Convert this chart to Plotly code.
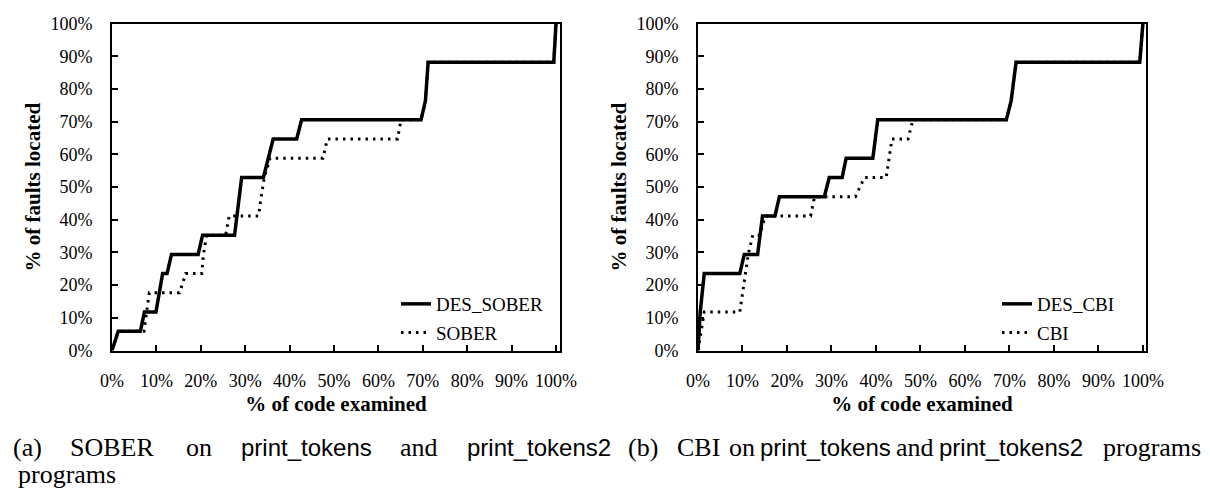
import plotly.graph_objects as go

# ---------------- data (17 faults -> steps of 1/17) ----------------
F = 100.0 / 17
# Left panel: SOBER
des_sober_x = [0, 1.4, 6.4, 7.3, 9.9, 11.4, 12.4, 13.4, 19.4, 20.4, 27.6, 29.2, 34.1, 36.3, 41.6, 42.7, 69.6, 70.6, 71.2, 99.5, 100]
des_sober_k = [0, 1, 1, 2, 2, 4, 4, 5, 5, 6, 6, 9, 9, 11, 11, 12, 12, 13, 15, 15, 17]
sober_x = [0, 1.4, 7.2, 7.8, 8.4, 15.2, 16.6, 20.2, 20.6, 21.3, 25.6, 26.4, 33.0, 33.6, 34.3, 35.6, 47.5, 48.5, 64.3, 65.1, 69.6, 70.6, 71.2, 99.5, 100]
sober_k = [0, 1, 1, 2, 3, 3, 4, 4, 5, 6, 6, 7, 7, 8, 9, 10, 10, 11, 11, 12, 12, 13, 15, 15, 17]
# Right panel: CBI
des_cbi_x = [0, 0.5, 1.4, 9.4, 10.4, 13.4, 14.5, 17.3, 18.3, 28.4, 29.5, 32.4, 33.3, 39.3, 40.4, 69.3, 70.4, 71.5, 99.3, 100]
des_cbi_k = [0, 2, 4, 4, 5, 5, 7, 7, 8, 8, 9, 9, 10, 10, 12, 12, 13, 15, 15, 17]
cbi_x = [0, 1.4, 9.4, 10.0, 10.6, 11.3, 12.3, 13.9, 15.1, 25.3, 26.2, 35.4, 37.4, 42.3, 43.6, 47.2, 48.3, 69.3, 70.4, 71.5, 99.3, 100]
cbi_k = [0, 2, 2, 3, 4, 5, 6, 6, 7, 7, 8, 8, 9, 9, 11, 11, 12, 12, 13, 15, 15, 17]

x_ticks = list(range(0, 101, 10))
y_ticks = list(range(0, 101, 10))
tick_text = [f"{v}%" for v in x_ticks]
x_title = "% of code examined"
y_title = "% of faults located"

SERIF = "Liberation Serif, Times New Roman, serif"
SANS = "Liberation Sans, Arial, sans-serif"
W, H = 1210, 490

def pct(ks):
    return [k * F for k in ks]

fig = go.Figure()
solid = dict(color="black", width=3.5)
dotted = dict(color="black", width=3, dash="2.5px,5px")

fig.add_trace(go.Scatter(x=des_sober_x, y=pct(des_sober_k), mode="lines", name="DES_SOBER",
                         line=solid, xaxis="x", yaxis="y", legend="legend", legendgroup="a"))
fig.add_trace(go.Scatter(x=sober_x, y=pct(sober_k), mode="lines", name="SOBER",
                         line=dotted, xaxis="x", yaxis="y", legend="legend", legendgroup="b"))
fig.add_trace(go.Scatter(x=des_cbi_x, y=pct(des_cbi_k), mode="lines", name="DES_CBI",
                         line=solid, xaxis="x2", yaxis="y2", legend="legend2", legendgroup="c"))
fig.add_trace(go.Scatter(x=cbi_x, y=pct(cbi_k), mode="lines", name="CBI",
                         line=dotted, xaxis="x2", yaxis="y2", legend="legend2", legendgroup="d"))

ydom = [1 - 342.5 / H, 1 - 15.7 / H]

def xaxis(dom, rng, anchor):
    return dict(domain=dom, range=rng, anchor=anchor, tickvals=x_ticks, ticktext=tick_text,
                ticks="inside", ticklen=6, tickwidth=1.5, tickcolor="black",
                showline=True, linecolor="black", linewidth=2, mirror=True,
                showgrid=False, zeroline=False, ticklabelstandoff=13, automargin=False,
                tickfont=dict(family=SERIF, size=18, color="black"),
                title=dict(text=f"<b>{x_title}</b>", font=dict(family=SERIF, size=21, color="black"), standoff=6))

def yaxis(anchor):
    return dict(domain=ydom, range=[0, 100], anchor=anchor, tickvals=y_ticks, ticktext=[f"{v}%" for v in y_ticks],
                ticks="inside", ticklen=6, tickwidth=1.5, tickcolor="black",
                showline=True, linecolor="black", linewidth=2, mirror=True,
                showgrid=False, zeroline=False, ticklabelstandoff=14, automargin=False,
                tickfont=dict(family=SERIF, size=18, color="black"),
                title=dict(text=f"<b>{y_title}</b>", font=dict(family=SERIF, size=21, color="black"), standoff=4))

leg_common = dict(xanchor="left", yanchor="top", bgcolor="rgba(0,0,0,0)", traceorder="grouped",
                  tracegroupgap=1, font=dict(family=SERIF, size=19, color="black"))

fig.update_layout(
    template="none",
    font=dict(family=SERIF, color="black"),
    width=W, height=H, margin=dict(l=0, r=0, t=0, b=0, autoexpand=False),
    paper_bgcolor="white", plot_bgcolor="white", showlegend=True,
    xaxis=xaxis([104 / W, 552 / W], [0, 100.9], "y"),
    yaxis=yaxis("x"),
    xaxis2=xaxis([690 / W, 1138 / W], [0, 100.7], "y2"),
    yaxis2=yaxis("x2"),
    legend=dict(x=388 / W, y=1 - 277 / H, **leg_common),
    legend2=dict(x=989 / W, y=1 - 277 / H, **leg_common),
)

# captions (word centres emulate the justified caption)
cap_words = [
    ("(a)", 19.5, 439, SERIF), ("SOBER", 104, 439, SERIF), ("on", 190.5, 439, SERIF),
    ("print_tokens", 298, 439, SANS), ("and", 411, 439, SERIF), ("print_tokens2", 530.5, 439, SANS),
    ("programs", 58.5, 466, SERIF),
    ("(b)", 635, 439, SERIF), ("CBI", 690, 439, SERIF), ("on", 733.5, 439, SERIF),
    ("print_tokens", 817.5, 439, SANS), ("and", 906.5, 439, SERIF), ("print_tokens2", 1002.5, 439, SANS),
    ("programs", 1143.5, 439, SERIF),
]
for txt, px, py, fam in cap_words:
    fig.add_annotation(text=txt, x=px / W, y=1 - py / H, xref="paper", yref="paper",
                       xanchor="center", yanchor="middle", showarrow=False, borderpad=0,
                       font=dict(family=fam, size=26 if fam == SERIF else 24, color="black"))

fig.write_html("out.html")
